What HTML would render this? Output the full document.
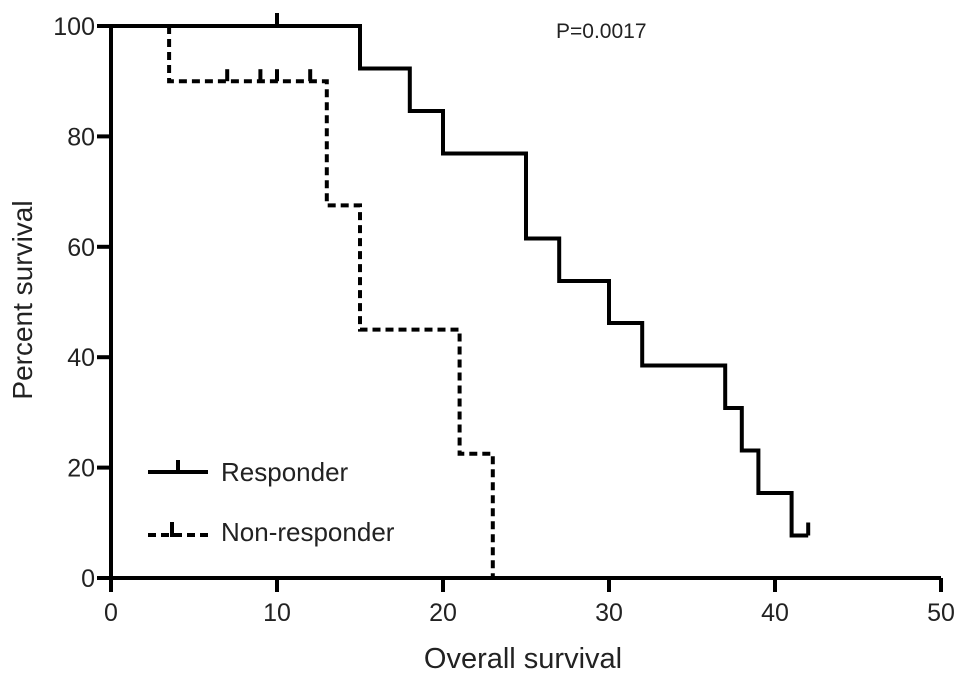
<!DOCTYPE html>
<html><head><meta charset="utf-8"><style>
html,body{margin:0;padding:0;background:#fff;}
svg text{font-family:"Liberation Sans",Arial,sans-serif;fill:#222;}
</style></head><body>
<svg id="chart" width="969" height="679" viewBox="0 0 969 679" xmlns="http://www.w3.org/2000/svg">
<g id="axes"></g>
<g id="series"></g>
<text x="556" y="38" font-size="21">P=0.0017</text>
<text x="523" y="668" font-size="29" text-anchor="middle">Overall survival</text>
<text transform="translate(32,300) rotate(-90)" font-size="28" text-anchor="middle">Percent survival</text>
<g>
<line x1="148" y1="472" x2="208" y2="472" stroke="#000" stroke-width="4"/>
<line x1="178" y1="472" x2="178" y2="460" stroke="#000" stroke-width="4"/>
<text x="221" y="481" font-size="26">Responder</text>
<line x1="148" y1="535" x2="208" y2="535" stroke="#000" stroke-width="4" stroke-dasharray="8,5"/>
<polyline points="172,522 172,535 182,535" fill="none" stroke="#000" stroke-width="4"/>
<text x="221" y="541" font-size="26">Non-responder</text>
</g>
</svg>
<script>
const xTicks=[0,10,20,30,40,50];
const yTicks=[0,20,40,60,80,100];
const respTimes=[0,15,18,20,25,27,30,32,37,38,39,41,42];
const respSurv=[100,92.3,84.6,76.9,61.5,53.8,46.2,38.5,30.8,23.1,15.4,7.7,7.7];
const respCensor=[10,42];
const respCensorSurv=[100,7.7];
const nonTimes=[3.5,13,15,21,23];
const nonSurv=[90,67.5,45,22.5,0];
const nonCensor=[7,9,10,12];
const nonCensorSurv=[90,90,90,90];
const NS='http://www.w3.org/2000/svg';
const X=v=>111+v*16.6, Y=v=>578-v*5.52;
const ax=document.getElementById('axes'), se=document.getElementById('series');
function mk(tag,at,p){const e=document.createElementNS(NS,tag);for(const k in at)e.setAttribute(k,at[k]);p.appendChild(e);return e;}
let e=mk('line',{x1:X(0),y1:Y(0),x2:X(50),y2:Y(0),stroke:'#000','stroke-width':4},ax);


e=mk('line',{x1:X(0),y1:Y(0),x2:X(0),y2:Y(100),stroke:'#000','stroke-width':4},ax);


xTicks.forEach(t=>{
 let l=mk('line',{x1:X(t),y1:Y(0),x2:X(t),y2:Y(0)+14,stroke:'#000','stroke-width':4},ax);
 
 
 let tx=mk('text',{x:X(t),y:621,'font-size':25,'text-anchor':'middle'},ax);tx.textContent=t;
 
 
});
yTicks.forEach(t=>{
 let l=mk('line',{x1:X(0)-14,y1:Y(t),x2:X(0),y2:Y(t),stroke:'#000','stroke-width':4},ax);
 
 
 let tx=mk('text',{x:X(0)-16,y:Y(t)+9,'font-size':25,'text-anchor':'end'},ax);tx.textContent=t;
 
 
});
function stepPts(ts,ss,start){let p=[];if(start!==null)p.push([X(ts[0]),Y(start)]);
 for(let i=0;i<ts.length;i++){ if(i>0)p.push([X(ts[i]),Y(ss[i-1])]); p.push([X(ts[i]),Y(ss[i])]);}
 return p.map(a=>a.join(',')).join(' ');}
e=mk('polyline',{points:stepPts(respTimes,respSurv,null),fill:'none',stroke:'#000','stroke-width':4},se);


e=mk('polyline',{points:stepPts(nonTimes,nonSurv,100),fill:'none',stroke:'#000','stroke-width':4,'stroke-dasharray':'8,5'},se);


respCensor.forEach((t,i)=>{let l=mk('line',{x1:X(t),y1:Y(respCensorSurv[i]),x2:X(t),y2:Y(respCensorSurv[i])-13,stroke:'#000','stroke-width':4},se);
 
 });
nonCensor.forEach((t,i)=>{let l=mk('line',{x1:X(t),y1:Y(nonCensorSurv[i]),x2:X(t),y2:Y(nonCensorSurv[i])-12,stroke:'#000','stroke-width':4},se);
 
 });
</script>
</body></html>
